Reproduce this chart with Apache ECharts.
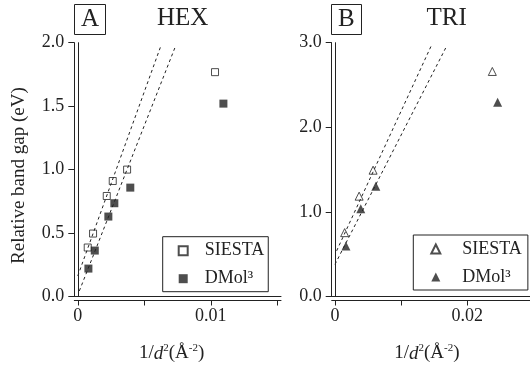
<!DOCTYPE html>
<html><head><meta charset="utf-8">
<script src="https://cdn.jsdelivr.net/npm/echarts@6/dist/echarts.min.js"></script>
<style>html,body{margin:0;padding:0;background:#fff}#c{width:530px;height:368px}</style>
</head><body><div id="c"></div>
<script>
// ---- data ----
const hexSiesta = [[0.00075,0.386],[0.00115,0.496],[0.00218,0.792],[0.00263,0.91],[0.00371,1.0],[0.01032,1.768]];
const hexDmol   = [[0.0008,0.22],[0.00128,0.362],[0.0023,0.63],[0.00275,0.735],[0.00395,0.858],[0.01095,1.52]];
const hexSiestaFit = [[0,0.162],[0.00626,1.978]];
const hexDmolFit   = [[0.00012,0.044],[0.00737,1.978]];
const triSiesta = [[0.00146,0.755],[0.00365,1.186],[0.00576,1.493],[0.0238,2.66]];
const triDmol   = [[0.00165,0.597],[0.0039,1.038],[0.00617,1.304],[0.0246,2.295]];
const triSiestaFit = [[0.00025,0.54],[0.01454,2.96]];
const triDmolFit   = [[0,0.38],[0.01689,2.96]];
const hexXTicks = [0,0.005,0.01,0.015];
const hexXLabels = [0,0.01];
const triXTicks = [0,0.01,0.02];
const triXLabels = [0,0.02];
const panelLetters = ['A','B'];
const panelNames = ['HEX','TRI'];
const legendNames = {hexSiesta:'SIESTA', hexDmol:'DMol³', triSiesta:'SIESTA', triDmol:'DMol³'};

const FONT = "'Liberation Serif','Times New Roman',serif";
const INK = '#222';
const chart = echarts.init(document.getElementById('c'), null, {renderer:'canvas'});

const sup = {fontSize:11, fontFamily:FONT, color:INK, verticalAlign:'top', lineHeight:12};
const xName = '{a|1/}{i|d}{s|2}{a|(Å}{s|-2}{a|)}';
const xNameStyle = (padR) => ({
  fontSize:19, fontFamily:FONT, color:INK, padding:[0,padR,0,0],
  rich:{a:{fontSize:19,fontFamily:FONT,color:INK,lineHeight:22},
        i:{fontSize:19,fontFamily:FONT,color:INK,fontStyle:'italic',lineHeight:22},
        s:sup}
});
const axLine = {show:true, lineStyle:{color:INK,width:1}};
const frameAxis = (extra) => Object.assign({
  axisLine:axLine, axisTick:{show:false}, axisLabel:{show:false}, splitLine:{show:false}
}, extra);
const fmtX = v => v===0 ? '0' : String(+v.toFixed(4));

const legendText = {fontSize:18, fontFamily:FONT, color:INK, lineHeight:20};
const legendFmt = name => legendNames[name];

const open = {color:'rgba(255,255,255,0)', borderColor:INK, borderWidth:1};
const filled = {color:INK, borderColor:INK, borderWidth:0};
const dash = {color:INK, width:1, type:[3,3]};

const option = {
  backgroundColor:'#fff',
  animation:false,
  textStyle:{fontFamily:FONT},
  title:[
    {text:panelLetters[0], left:74, top:4, borderWidth:1, borderColor:INK, padding:[3,7,3,7],
     textStyle:{fontSize:25,fontFamily:FONT,fontWeight:'normal',color:INK}},
    {text:panelNames[0], left:157, top:6, padding:0,
     textStyle:{fontSize:25,fontFamily:FONT,fontWeight:'normal',color:INK}},
    {text:panelLetters[1], left:331, top:4, borderWidth:1, borderColor:INK, padding:[3,7,3,7],
     textStyle:{fontSize:25,fontFamily:FONT,fontWeight:'normal',color:INK}},
    {text:panelNames[1], left:426.5, top:6, padding:0,
     textStyle:{fontSize:25,fontFamily:FONT,fontWeight:'normal',color:INK}}
  ],
  legend:[
    {data:['hexSiesta','hexDmol'], orient:'vertical', left:162.7, top:236.7,
     borderColor:INK, borderWidth:1, padding:[4,4,3,15], itemGap:8,
     itemWidth:9, itemHeight:9, formatter:legendFmt,
     textStyle:Object.assign({padding:[0,0,0,12]}, legendText)},
    {data:['triSiesta','triDmol'], orient:'vertical', left:413.3, top:235,
     borderColor:INK, borderWidth:1, padding:[4,6,3,17], itemGap:8,
     itemWidth:9, itemHeight:9, formatter:legendFmt,
     textStyle:Object.assign({padding:[0,0,0,17]}, legendText)}
  ],
  grid:[
    {left:74.3, top:42.7, width:206.7, height:254.6},
    {left:331.7, top:42.7, width:199.2, height:254.6}
  ],
  xAxis:[
    {type:'value', gridIndex:0, position:'bottom', min:-0.00026, max:0.01528, offset:4,
     axisLine:Object.assign({onZero:false},axLine),
     axisTick:{show:true, inside:false, length:5, customValues:hexXTicks, lineStyle:{color:INK}},
     axisLabel:{show:true, customValues:hexXLabels, fontSize:18, fontFamily:FONT, color:INK, margin:7, formatter:fmtX},
     splitLine:{show:false},
     name:xName, nameLocation:'middle', nameGap:42, nameTextStyle:xNameStyle(12)},
    frameAxis({type:'value', gridIndex:0, position:'top', min:-0.00026, max:0.01528}),
    {type:'value', gridIndex:1, position:'bottom', min:-0.0005, max:0.0295, offset:4,
     axisLine:Object.assign({onZero:false},axLine),
     axisTick:{show:true, inside:false, length:5, customValues:triXTicks, lineStyle:{color:INK}},
     axisLabel:{show:true, customValues:triXLabels, fontSize:18, fontFamily:FONT, color:INK, margin:7, formatter:fmtX},
     splitLine:{show:false},
     name:xName, nameLocation:'middle', nameGap:42, nameTextStyle:xNameStyle(8)},
    frameAxis({type:'value', gridIndex:1, position:'top', min:-0.0005, max:0.0295})
  ],
  yAxis:[
    {type:'value', gridIndex:0, position:'left', min:0, max:2, interval:0.5,
     axisLine:Object.assign({onZero:false},axLine),
     axisTick:{show:true, inside:false, length:6, lineStyle:{color:INK}},
     axisLabel:{fontSize:18, fontFamily:FONT, color:INK, margin:10, formatter:v=>v.toFixed(1)},
     splitLine:{show:false},
     name:'Relative band gap (eV)', nameLocation:'middle', nameGap:46,
     nameTextStyle:{fontSize:19, fontFamily:FONT, color:INK, padding:[0,12,0,0]}},
    frameAxis({type:'value', gridIndex:0, position:'right', min:0, max:2}),
    {type:'value', gridIndex:1, position:'left', min:0, max:3, interval:1,
     axisLine:Object.assign({onZero:false},axLine),
     axisTick:{show:true, inside:false, length:6, lineStyle:{color:INK}},
     axisLabel:{fontSize:18, fontFamily:FONT, color:INK, margin:10, formatter:v=>v.toFixed(1)},
     splitLine:{show:false}},
    frameAxis({type:'value', gridIndex:1, position:'right', min:0, max:3})
  ],
  series:[
    {name:'hexSiestaFit', type:'line', xAxisIndex:0, yAxisIndex:0, data:hexSiestaFit, symbol:'none', lineStyle:dash, z:1},
    {name:'hexDmolFit', type:'line', xAxisIndex:0, yAxisIndex:0, data:hexDmolFit, symbol:'none', lineStyle:dash, z:1},
    {name:'triSiestaFit', type:'line', xAxisIndex:2, yAxisIndex:2, data:triSiestaFit, symbol:'none', lineStyle:dash, z:1},
    {name:'triDmolFit', type:'line', xAxisIndex:2, yAxisIndex:2, data:triDmolFit, symbol:'none', lineStyle:dash, z:1},
    {name:'hexSiesta', type:'scatter', xAxisIndex:0, yAxisIndex:0, data:hexSiesta, symbol:'rect', symbolSize:7, itemStyle:open, z:3},
    {name:'hexDmol', type:'scatter', xAxisIndex:0, yAxisIndex:0, data:hexDmol, symbol:'rect', symbolSize:8, itemStyle:filled, z:3},
    {name:'triSiesta', type:'scatter', xAxisIndex:2, yAxisIndex:2, data:triSiesta, symbol:'triangle', symbolSize:8, itemStyle:open, z:3},
    {name:'triDmol', type:'scatter', xAxisIndex:2, yAxisIndex:2, data:triDmol, symbol:'triangle', symbolSize:9, itemStyle:filled, z:3}
  ]
};
chart.setOption(option);
</script></body></html>
